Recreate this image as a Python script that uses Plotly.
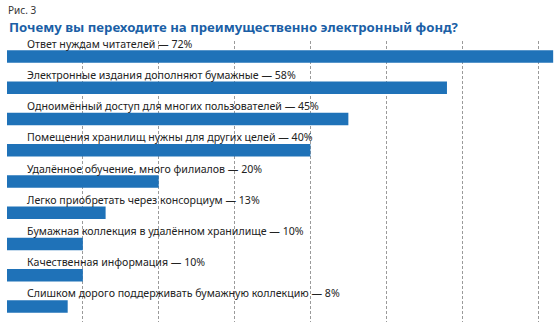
import plotly.graph_objects as go

labels = [
    "Ответ нуждам читателей",
    "Электронные издания дополняют бумажные",
    "Одноимённый доступ для многих пользователей",
    "Помещения хранилищ нужны для других целей",
    "Удалённое обучение, много филиалов",
    "Легко приобретать через консорциум",
    "Бумажная коллекция в удалённом хранилище",
    "Качественная информация",
    "Слишком дорого поддерживать бумажную коллекцию",
]
values = [72, 58, 45, 40, 20, 13, 10, 10, 8]

fig_title = "Почему вы переходите на преимущественно электронный фонд?"
fig_label = "Рис. 3"

bar_color = "#1f72b8"
title_color = "#1b5fa6"
font_family = "Noto Sans"

fig = go.Figure()
fig.add_trace(go.Bar(
    x=values, y=list(range(len(labels))), orientation="h",
    marker=dict(color=bar_color, line=dict(width=0)),
    width=0.4, hoverinfo="skip",
))

for i, (lab, v) in enumerate(zip(labels, values)):
    fig.add_annotation(
        x=0, y=i, xref="x", yref="y", text=f"{lab} — {v}%",
        showarrow=False, xanchor="left", yanchor="middle",
        xshift=18, yshift=13,
        font=dict(family=font_family, size=10.6, color="#222222"),
    )

fig.update_layout(
    width=560, height=324,
    margin=dict(l=7, r=0, t=41, b=2),
    paper_bgcolor="white", plot_bgcolor="white",
    showlegend=False,
    font=dict(family=font_family),
    xaxis=dict(range=[0, 72.9], dtick=10, tick0=0, showticklabels=False,
               showgrid=True, gridcolor="#9a9a9a", gridwidth=1,
               griddash="3px,2px", zeroline=False, showline=False, ticks=""),
    yaxis=dict(range=[8.5, -0.5], showticklabels=False, showgrid=False,
               zeroline=False, showline=False, ticks=""),
)

fig.add_annotation(
    xref="paper", yref="paper", x=0, y=1, xanchor="left", yanchor="bottom",
    text=fig_title, showarrow=False, yshift=3, xshift=0,
    font=dict(family=font_family, size=13.2, color=title_color, weight="bold"),
)
fig.add_annotation(
    xref="paper", yref="paper", x=0, y=1, xanchor="left", yanchor="bottom",
    text=fig_label, showarrow=False, yshift=22, xshift=-1,
    font=dict(family=font_family, size=10, color="#333333"),
)

fig.write_html("out.html")
